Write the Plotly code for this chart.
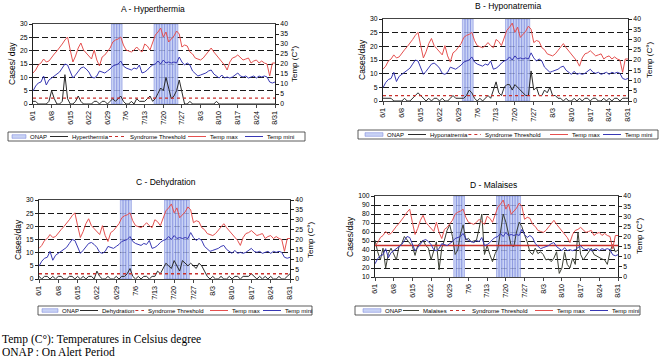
import plotly.graph_objects as go
import pandas as pd

# ---------------- data ----------------
dates = pd.date_range("2006-06-01", "2006-08-31")
day_labels = [f"{d.month}/{d.day}" for d in dates]
days = list(range(len(day_labels)))
tick_days = days[::7]
tick_labels = day_labels[::7]

temp_max = [15.5, 17, 19.5, 20.5, 22.5, 21, 21.5, 23.5, 25, 26.5,
            28, 30, 32, 33.5, 27, 21, 24, 28, 30.5, 27,
            25.5, 24, 22.5, 27, 22, 19, 23.5, 24.5, 26, 28,
            31, 32, 32.5, 33.5, 29.5, 27, 26.5, 26, 27, 28.5,
            27, 26, 30, 29, 27, 31, 34.5, 36, 38, 33.5,
            36, 31, 32.5, 34, 36.5, 35, 28.5, 29.5, 29, 26,
            25, 23, 22.5, 22, 23, 24.5, 26.5, 28, 26, 24.5,
            23, 21, 19.5, 17, 21, 23, 23.5, 24.5, 23, 22,
            22.5, 23, 20.5, 21.5, 22, 20.5, 21.5, 20.5, 20, 14,
            20.5, 20.5]

temp_min = [6.5, 9, 10.5, 11, 14, 9.5, 12, 13, 14, 15,
            16, 18, 20, 19.5, 16, 13, 14.5, 16.5, 18, 18.5,
            17.5, 16, 13.5, 13, 14, 16.5, 16, 15.5, 16.5, 17.5,
            19, 19.5, 20, 21.5, 19, 18, 17.5, 17, 18, 17.5,
            19.5, 15.5, 16, 17, 18.5, 19.5, 20, 21.5, 20, 22,
            20.5, 21, 20.5, 21, 20.5, 23.5, 21, 19.5, 20.5, 19.5,
            16.5, 15, 14, 14.5, 15, 15.5, 16.5, 17, 15, 14,
            13, 14.5, 13, 13.5, 13, 13.5, 14.5, 15.5, 14, 13.5,
            14, 13, 13.5, 14, 13, 14, 13.5, 14, 13.5, 11,
            10.5, 11]

cases_hyperthermia = [1, 1, 0, 0, 0, 0, 1, 5, 2, 0,
                      0, 1, 11, 2, 0, 0, 1, 3, 1, 0,
                      0, 0, 0, 1, 1, 0, 1, 1, 0, 1,
                      2, 1, 2, 3, 1, 0, 0, 1, 0, 2,
                      1, 1, 1, 2, 3, 1, 2, 4, 6, 5,
                      10, 6, 2, 3, 5, 9, 4, 0, 0, 1,
                      0, 0, 0, 0, 0, 0, 0, 0, 0, 1,
                      0, 0, 0, 0, 0, 0, 0, 0, 0, 0,
                      0, 0, 0, 0, 0, 0, 0, 0, 0, 0,
                      0, 0]

cases_hyponatremia = [1, 1, 1, 1, 0, 0, 0, 0, 1, 0,
                      0, 1, 2, 3, 2, 1, 0, 1, 0, 1,
                      1, 0, 1, 0, 0, 1, 2, 1, 1, 1,
                      1, 2, 4, 3, 1, 0, 1, 0, 1, 2,
                      1, 4, 7, 3, 2, 5, 6, 6, 4, 6,
                      5, 4, 3, 2, 2, 11, 4, 5, 2, 2,
                      4, 3, 5, 2, 2, 1, 1, 0, 1, 0,
                      0, 1, 0, 1, 0, 1, 1, 0, 1, 1,
                      0, 0, 1, 0, 1, 0, 1, 1, 0, 1,
                      1, 1]

cases_dehydration = [1, 0, 1, 1, 0, 1, 0, 1, 1, 0,
                     0, 1, 1, 0, 1, 0, 1, 0, 1, 1,
                     0, 3, 1, 0, 0, 1, 0, 0, 1, 0,
                     1, 1, 2, 4, 1, 0, 1, 0, 1, 1,
                     0, 1, 1, 3, 2, 4, 6, 5, 4, 7,
                     5, 3, 7, 6, 5, 6, 5, 4, 6, 5,
                     3, 1, 0, 1, 0, 0, 1, 0, 0, 1,
                     0, 1, 1, 0, 1, 1, 1, 2, 1, 0,
                     1, 0, 1, 0, 1, 0, 0, 1, 0, 0,
                     1, 2]

cases_malaises = [51, 38, 29, 42, 20, 36, 42, 35, 29, 44,
                  47, 55, 51, 48, 44, 34, 45, 48, 51, 45,
                  42, 29, 40, 49, 18, 42, 51, 62, 68, 55,
                  35, 40, 58, 68, 51, 53, 49, 50, 51, 64,
                  80, 35, 45, 35, 27, 36, 42, 60, 80, 71,
                  58, 45, 44, 60, 71, 66, 57, 49, 38, 35,
                  42, 36, 38, 35, 29, 30, 27, 31, 38, 14,
                  20, 38, 24, 20, 31, 24, 60, 35, 29, 33,
                  38, 42, 35, 33, 31, 30, 29, 24, 38, 46,
                  38, 40]

thresholds = [2.2, 2.0, 2.0, 45]
syndromes = ["Hyperthermia", "Hyponatremia", "Dehydration", "Malaises"]
panel_titles = ["A - Hyperthermia", "B - Hyponatremia", "C - Dehydration", "D - Malaises"]
case_titles = ["Cases/ day", "Cases/day", "Cases/day", "Cases/day"]
onap_days = [30, 31, 32, 33, 46, 47, 48, 49, 50, 51, 52, 53, 54]
left_ranges = [[0, 30], [0, 30], [0, 30], [10, 100]]
left_dticks = [5, 5, 5, 10]
temp_range = [0, 40]
legend_names = ["ONAP", None, "Syndrome Threshold", "Temp max", "Temp mini"]
footnotes = ["Temp (C°): Temperatures in Celsius degree", "ONAP : On Alert Period"]

all_cases = [cases_hyperthermia, cases_hyponatremia, cases_dehydration, cases_malaises]

# ---------------- layout geometry (pixels) ----------------
W, H = 661, 364
geom = [
    dict(x0=33, x1=275, top=24, bot=104, title=(153, 9), lt=(12, 64), rt=(294, 64),
         box=(8, 132, 305, 141), texts=[28, 70, 128, 208, 265]),
    dict(x0=383, x1=628, top=19, bot=101, title=(508, 6), lt=(362, 60), rt=(650, 60),
         box=(358, 130, 658, 139), texts=[385, 428, 483, 570, 623]),
    dict(x0=39, x1=290, top=200, bot=279, title=(166, 182), lt=(18, 240), rt=(310, 240),
         box=(38, 306, 312, 315), texts=[60, 100, 146, 230, 283]),
    dict(x0=375, x1=618, top=196, bot=277, title=(493, 185), lt=(350, 236), rt=(639, 236),
         box=(355, 306, 640, 315), texts=[383, 421, 470, 555, 610]),
]

FONT = "Liberation Sans, Arial, sans-serif"
C_MAX = "#e5504f"
C_MIN = "#3838b4"
C_CASE = ["#2a2a2a", "#2a2a2a", "#2a2a2a", "#3c4035"]
C_THR = "#c8302c"
C_ONAP_FILL = "rgba(188,200,242,0.8)"
C_ONAP_LINE = "rgba(96,112,212,0.85)"

AW = {'A': .667, 'B': .667, 'C': .722, 'D': .722, 'E': .667, 'H': .722, 'M': .833, 'N': .722,
      'O': .778, 'P': .667, 'S': .667, 'T': .611, 'a': .556, 'c': .5, 'd': .556, 'e': .556,
      'h': .556, 'i': .222, 'l': .222, 'm': .833, 'n': .556, 'o': .556, 'p': .556, 'r': .333,
      's': .5, 't': .278, 'x': .5, 'y': .5, ' ': .278}


def tw(s, size):
    return sum(AW.get(c, .556) for c in s) * size


def px(x):
    return x / W


def py(y):
    return 1 - y / H


fig = go.Figure()
annotations = []
shapes = []
LEG_FS = 6.0

for i in range(4):
    n = i + 1
    g = geom[i]
    xa = "x" if n == 1 else f"x{n}"
    yl_n = 2 * n - 1
    yr_n = 2 * n
    yl = "y" if yl_n == 1 else f"y{yl_n}"
    yr = f"y{yr_n}"
    cases = all_cases[i]
    lr = left_ranges[i]

    # ONAP bars (full height of the panel)
    fig.add_trace(go.Bar(x=onap_days, y=[lr[1]] * len(onap_days), width=1,
                         marker=dict(color=C_ONAP_FILL, line=dict(color=C_ONAP_LINE, width=0.5)),
                         xaxis=xa, yaxis=yl, showlegend=False, hoverinfo="skip"))
    # Cases
    fig.add_trace(go.Scatter(x=days, y=cases, mode="lines", line=dict(color=C_CASE[i], width=1),
                             xaxis=xa, yaxis=yl, showlegend=False, name=syndromes[i]))
    # Threshold
    fig.add_trace(go.Scatter(x=days, y=[thresholds[i]] * len(days), mode="lines",
                             line=dict(color=C_THR, width=1.3 if i < 3 else 1.5,
                                       dash="dot" if i < 3 else "solid"),
                             xaxis=xa, yaxis=yl, showlegend=False, name="Syndrome Threshold"))
    # Temperatures
    fig.add_trace(go.Scatter(x=days, y=temp_max, mode="lines", line=dict(color=C_MAX, width=1),
                             xaxis=xa, yaxis=yr, showlegend=False, name="Temp max"))
    fig.add_trace(go.Scatter(x=days, y=temp_min, mode="lines", line=dict(color=C_MIN, width=1),
                             xaxis=xa, yaxis=yr, showlegend=False, name="Temp mini"))

    xdom = [px(g["x0"]), px(g["x1"])]
    ydom = [py(g["bot"]), py(g["top"])]
    tickfont = dict(family=FONT, size=6.8, color="black")
    xtickfont = dict(family=FONT, size=7.2, color="black")
    fig.layout[f"xaxis{'' if n == 1 else n}"] = dict(
        domain=xdom, anchor=yl, range=[0, days[-1]], tickmode="array",
        tickvals=tick_days, ticktext=tick_labels, tickangle=-90, tickfont=xtickfont,
        ticks="outside", ticklen=3, tickcolor="#444", showline=True, linecolor="#444",
        linewidth=1, mirror=True, showgrid=False, zeroline=False, automargin=False)
    fig.layout[f"yaxis{'' if yl_n == 1 else yl_n}"] = dict(
        domain=ydom, anchor=xa, range=lr, dtick=left_dticks[i], tick0=0,
        showgrid=True, gridcolor="black", gridwidth=0.9, griddash="6px,3px",
        showline=True, linecolor="#222", linewidth=1, ticks="outside", ticklen=3,
        tickcolor="#222", tickfont=tickfont, zeroline=False, automargin=False)
    fig.layout[f"yaxis{yr_n}"] = dict(
        overlaying=yl, side="right", anchor=xa, range=temp_range, dtick=5,
        showgrid=False, showline=True, linecolor="#222", linewidth=1, ticks="outside",
        ticklen=3, tickcolor="#222", tickfont=tickfont, zeroline=False, automargin=False)

    # titles
    annotations.append(dict(text=panel_titles[i], x=px(g["title"][0]), y=py(g["title"][1]),
                            xref="paper", yref="paper", showarrow=False, xanchor="center",
                            yanchor="middle", font=dict(family=FONT, size=8.5, color="black")))
    annotations.append(dict(text=case_titles[i], x=px(g["lt"][0]), y=py(g["lt"][1]),
                            xref="paper", yref="paper", showarrow=False, textangle=-90,
                            xanchor="center", yanchor="middle",
                            font=dict(family=FONT, size=8.5, color="black")))
    annotations.append(dict(text="Temp (C°)", x=px(g["rt"][0]), y=py(g["rt"][1]),
                            xref="paper", yref="paper", showarrow=False, textangle=-90,
                            xanchor="center", yanchor="middle",
                            font=dict(family=FONT, size=8, color="black")))

    # legend box
    bx0, by0, bx1, by1 = g["box"]
    shapes.append(dict(type="rect", xref="paper", yref="paper", x0=px(bx0), x1=px(bx1),
                       y0=py(by1), y1=py(by0), line=dict(color="#333", width=0.8),
                       fillcolor="white", layer="above"))
    ymid = (by0 + by1) / 2
    names = list(legend_names)
    names[1] = syndromes[i]
    prev_end = bx0 + 1
    for k, nm in enumerate(names):
        tx = g["texts"][k]
        s0 = max(tx - 20, prev_end + 3)
        s1 = tx - 2
        if k == 0:
            shapes.append(dict(type="rect", xref="paper", yref="paper", x0=px(s0), x1=px(s1),
                               y0=py(ymid + 1.8), y1=py(ymid - 1.8),
                               fillcolor=C_ONAP_FILL, line=dict(color=C_ONAP_LINE, width=0.5),
                               layer="above"))
        else:
            col = [None, C_CASE[i], C_THR, C_MAX, C_MIN][k]
            dash = "dot" if k == 2 else "solid"
            shapes.append(dict(type="line", xref="paper", yref="paper", x0=px(s0), x1=px(s1),
                               y0=py(ymid), y1=py(ymid), line=dict(color=col, width=1, dash=dash),
                               layer="above"))
        annotations.append(dict(text=nm, x=px(tx), y=py(ymid), xref="paper", yref="paper",
                                showarrow=False, xanchor="left", yanchor="middle",
                                font=dict(family=FONT, size=LEG_FS, color="black")))
        prev_end = tx + tw(nm, LEG_FS)

# footnotes
for j, txt in enumerate(footnotes):
    annotations.append(dict(text=txt, x=0, y=py(339 + 13 * j), xref="paper", yref="paper",
                            showarrow=False, xanchor="left", yanchor="middle",
                            font=dict(family="Liberation Serif, Times New Roman, serif",
                                      size=11.5, color="black")))

fig.update_layout(width=W, height=H, margin=dict(l=0, r=0, t=0, b=0, pad=0),
                  paper_bgcolor="white", plot_bgcolor="white", showlegend=False,
                  annotations=annotations, shapes=shapes, bargap=0, hovermode=False,
                  font=dict(family=FONT, color="black"))

fig.write_html("out.html", config={"displayModeBar": False, "staticPlot": True},
               post_script="document.body.style.margin='0px';document.body.style.overflow='hidden';")
